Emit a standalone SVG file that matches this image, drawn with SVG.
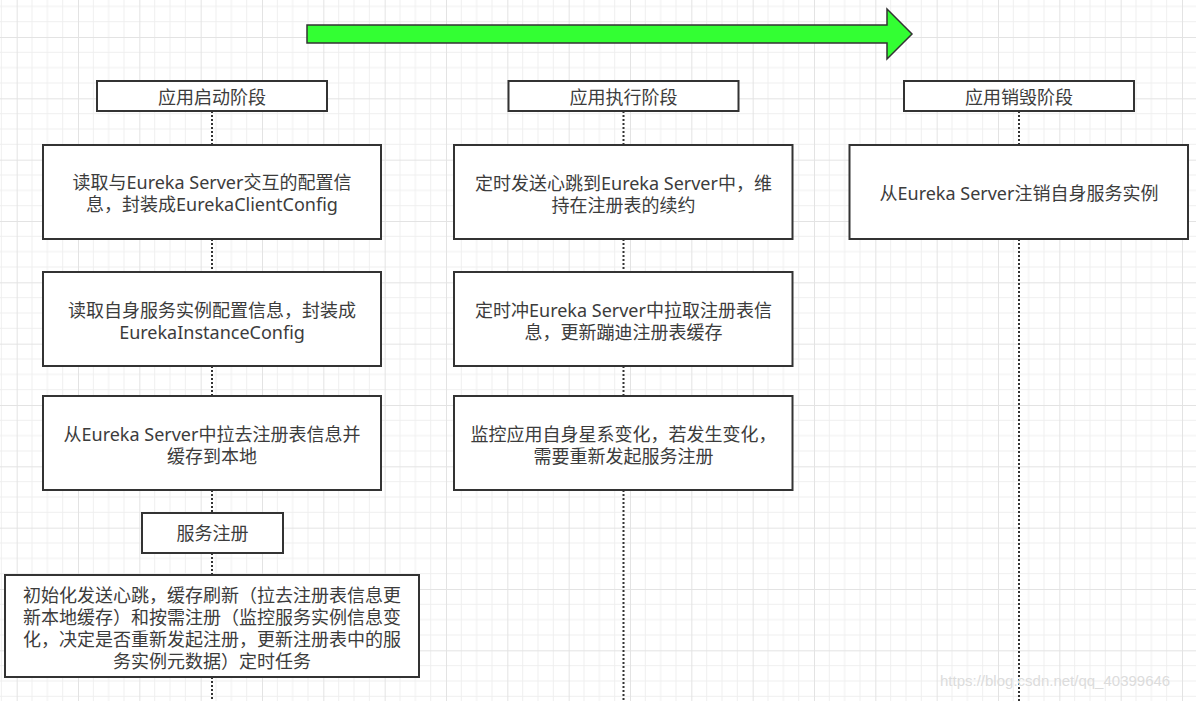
<svg xmlns="http://www.w3.org/2000/svg" width="1196" height="701" viewBox="0 0 1196 701">
<defs>
<pattern id="grid" patternUnits="userSpaceOnUse" x="16.67" y="37" width="61.333" height="61.333">
<path d="M15.333 0V61.333M30.667 0V61.333M46 0V61.333M0 15.333H61.333M0 30.667H61.333M0 46H61.333" stroke="#efefef" stroke-width="1" fill="none"/>
<path d="M0.5 0V61.333M0 0.5H61.333" stroke="#e3e3e3" stroke-width="1" fill="none"/>
</pattern>
<style>
.box{fill:#ffffff;stroke:#333333;stroke-width:2}
.t{font-family:"Noto Sans","Noto Sans CJK SC",sans-serif;font-size:18px;fill:#3c3c3c;text-anchor:middle;dominant-baseline:central}
.life{stroke:#333333;stroke-width:2;stroke-dasharray:2 2;fill:none}
.wm{font-family:"Liberation Sans","Noto Sans",sans-serif;font-size:15px;fill:#dcdcdc}
</style>
</defs>
<rect width="1196" height="701" fill="#ffffff"/>
<rect width="1196" height="701" fill="url(#grid)"/>

<g id="connectors">
<path class="life" d="M212 111V145M212 239V272M212 366V396M212 490V513M212 553V575M212 677V701"/>
<path class="life" d="M623.5 111V145M623.5 239V272M623.5 366V396M623.5 490V701"/>
<path class="life" d="M1019 111V145M1019 239V701"/>
</g>

<g id="timeline-arrow">
<polygon points="307,25 887,25 887,9 912,34 887,59 887,43 307,43" fill="#33ff33" stroke="#333333" stroke-width="1.5" stroke-linejoin="miter"/>
</g>

<g id="phase-start">
<rect class="box" x="97" y="81" width="230" height="30"/>
<text class="t" x="212" y="97">应用启动阶段</text>
</g>
<g id="phase-run">
<rect class="box" x="508.5" y="81" width="230" height="30"/>
<text class="t" x="623.5" y="97">应用执行阶段</text>
</g>
<g id="phase-destroy">
<rect class="box" x="904" y="81" width="230" height="30"/>
<text class="t" x="1019" y="97">应用销毁阶段</text>
</g>

<g id="start-1">
<rect class="box" x="43" y="145" width="338" height="94"/>
<text class="t" x="212" y="182">读取与Eureka Server交互的配置信</text>
<text class="t" x="212" y="204">息，封装成EurekaClientConfig</text>
</g>
<g id="start-2">
<rect class="box" x="43" y="272" width="338" height="94"/>
<text class="t" x="212" y="310">读取自身服务实例配置信息，封装成</text>
<text class="t" x="212" y="332">EurekaInstanceConfig</text>
</g>
<g id="start-3">
<rect class="box" x="43" y="396" width="338" height="94"/>
<text class="t" x="212" y="434">从Eureka Server中拉去注册表信息并</text>
<text class="t" x="212" y="456">缓存到本地</text>
</g>
<g id="service-register">
<rect class="box" x="142" y="513" width="141" height="40"/>
<text class="t" x="212.5" y="533">服务注册</text>
</g>
<g id="start-tasks">
<rect class="box" x="5" y="575" width="414" height="102"/>
<text class="t" x="212" y="595">初始化发送心跳，缓存刷新（拉去注册表信息更</text>
<text class="t" x="212" y="617">新本地缓存）和按需注册（监控服务实例信息变</text>
<text class="t" x="212" y="639">化，决定是否重新发起注册，更新注册表中的服</text>
<text class="t" x="212" y="661">务实例元数据）定时任务</text>
</g>

<g id="run-1">
<rect class="box" x="454" y="145" width="338.5" height="94"/>
<text class="t" x="623.5" y="183">定时发送心跳到Eureka Server中，维</text>
<text class="t" x="623.5" y="205">持在注册表的续约</text>
</g>
<g id="run-2">
<rect class="box" x="454" y="272" width="338.5" height="94"/>
<text class="t" x="623.5" y="310">定时冲Eureka Server中拉取注册表信</text>
<text class="t" x="623.5" y="332">息，更新蹦迪注册表缓存</text>
</g>
<g id="run-3">
<rect class="box" x="454" y="396" width="338.5" height="94"/>
<text class="t" x="623.5" y="434">监控应用自身星系变化，若发生变化，</text>
<text class="t" x="623.5" y="456">需要重新发起服务注册</text>
</g>

<g id="destroy-1">
<rect class="box" x="849.5" y="145" width="338.5" height="94"/>
<text class="t" x="1019" y="193">从Eureka Server注销自身服务实例</text>
</g>

<text class="wm" x="940" y="686">https://blog.csdn.net/qq_40399646</text>
</svg>
